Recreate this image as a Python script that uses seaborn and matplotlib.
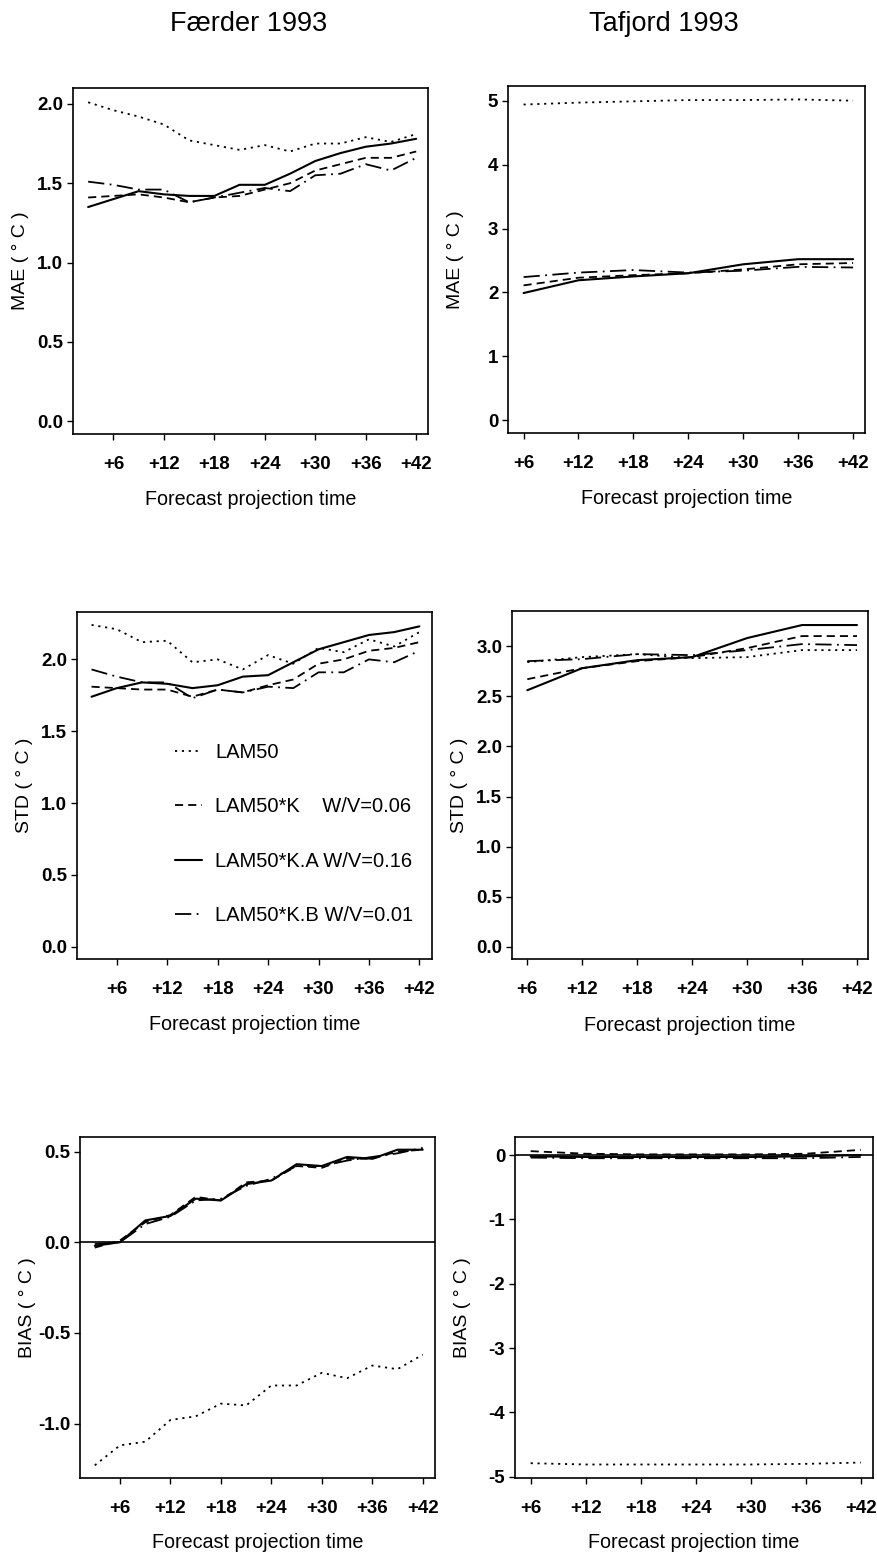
import matplotlib
matplotlib.use("Agg")
import matplotlib.pyplot as plt
import seaborn as sns
import pandas as pd

# forecast hours
hours_f = [3, 6, 9, 12, 15, 18, 21, 24, 27, 30, 33, 36, 39, 42]
hours_t = [6, 12, 18, 24, 30, 36, 42]
xtick_hours = [6, 12, 18, 24, 30, 36, 42]
xtick_labels = ["+6", "+12", "+18", "+24", "+30", "+36", "+42"]

models = ["LAM50", "LAM50*K", "LAM50*K.A", "LAM50*K.B"]
legend_labels = ["LAM50", "LAM50*K    W/V=0.06", "LAM50*K.A W/V=0.16", "LAM50*K.B W/V=0.01"]

# Færder 1993
f_mae_lam50 = [2.01, 1.96, 1.92, 1.87, 1.77, 1.74, 1.71, 1.74, 1.70, 1.75, 1.75, 1.79, 1.76, 1.81]
f_mae_k     = [1.41, 1.42, 1.43, 1.41, 1.38, 1.41, 1.42, 1.46, 1.50, 1.58, 1.62, 1.66, 1.66, 1.70]
f_mae_ka    = [1.35, 1.40, 1.45, 1.43, 1.42, 1.42, 1.49, 1.49, 1.56, 1.64, 1.69, 1.73, 1.75, 1.78]
f_mae_kb    = [1.51, 1.49, 1.46, 1.46, 1.38, 1.41, 1.44, 1.47, 1.45, 1.55, 1.56, 1.62, 1.58, 1.66]

f_std_lam50 = [2.24, 2.21, 2.12, 2.13, 1.98, 2.00, 1.93, 2.03, 1.97, 2.08, 2.05, 2.14, 2.09, 2.19]
f_std_k     = [1.81, 1.80, 1.79, 1.79, 1.74, 1.79, 1.77, 1.82, 1.86, 1.97, 2.00, 2.06, 2.08, 2.12]
f_std_ka    = [1.74, 1.80, 1.84, 1.83, 1.80, 1.82, 1.88, 1.89, 1.98, 2.07, 2.12, 2.17, 2.19, 2.23]
f_std_kb    = [1.93, 1.88, 1.84, 1.84, 1.73, 1.79, 1.77, 1.81, 1.80, 1.91, 1.91, 2.00, 1.98, 2.06]

f_bias_lam50 = [-1.23, -1.12, -1.10, -0.98, -0.96, -0.89, -0.90, -0.79, -0.79, -0.72, -0.75, -0.68, -0.70, -0.62]
f_bias_k     = [-0.03, 0.01, 0.11, 0.15, 0.25, 0.23, 0.33, 0.34, 0.42, 0.41, 0.46, 0.46, 0.50, 0.51]
f_bias_ka    = [-0.02, 0.00, 0.12, 0.145, 0.24, 0.23, 0.32, 0.34, 0.43, 0.42, 0.47, 0.46, 0.51, 0.51]
f_bias_kb    = [-0.01, 0.00, 0.10, 0.14, 0.23, 0.24, 0.31, 0.35, 0.42, 0.42, 0.45, 0.47, 0.49, 0.52]

# Tafjord 1993
t_mae_lam50 = [4.94, 4.97, 4.99, 5.01, 5.01, 5.02, 5.00]
t_mae_k     = [2.11, 2.23, 2.27, 2.30, 2.36, 2.44, 2.46]
t_mae_ka    = [1.99, 2.19, 2.25, 2.30, 2.44, 2.52, 2.52]
t_mae_kb    = [2.24, 2.31, 2.35, 2.31, 2.34, 2.40, 2.39]

t_std_lam50 = [2.84, 2.89, 2.92, 2.88, 2.89, 2.96, 2.96]
t_std_k     = [2.67, 2.78, 2.85, 2.89, 2.98, 3.10, 3.10]
t_std_ka    = [2.56, 2.78, 2.86, 2.89, 3.08, 3.21, 3.21]
t_std_kb    = [2.85, 2.87, 2.92, 2.91, 2.96, 3.02, 3.01]

t_bias_lam50 = [-4.79, -4.81, -4.81, -4.81, -4.81, -4.80, -4.78]
t_bias_k     = [0.06, 0.02, 0.01, 0.01, 0.01, 0.02, 0.08]
t_bias_ka    = [-0.02, -0.03, -0.03, -0.03, -0.03, -0.02, 0.00]
t_bias_kb    = [-0.04, -0.05, -0.05, -0.05, -0.05, -0.05, -0.03]

sns.set_theme(style="ticks")
plt.rcParams["font.family"] = ["Liberation Sans", "DejaVu Sans"]
plt.rcParams["text.color"] = "black"
plt.rcParams["axes.labelcolor"] = "black"
plt.rcParams["xtick.color"] = "black"
plt.rcParams["ytick.color"] = "black"

line_styles = {
    "LAM50": dict(linestyle=(0, (1.2, 2.6)), lw=1.3),
    "LAM50*K": dict(linestyle=(0, (4.5, 2.8)), lw=1.3),
    "LAM50*K.A": dict(linestyle="-", lw=1.5),
    "LAM50*K.B": dict(linestyle=(0, (9, 3, 1, 3)), lw=1.3),
}

W, H = 877, 1560
fig = plt.figure(figsize=(W / 100, H / 100), dpi=100)


def px_axes(left, top, right, bottom):
    return fig.add_axes([left / W, 1 - bottom / H, (right - left) / W, (bottom - top) / H])


def draw(ax, hours, series, ylim, yticks, ylabel, fmt, xlim, zero_line=False, show_legend=False):
    df = pd.DataFrame({"hour": hours * len(series),
                       "value": sum(series, []),
                       "model": sum([[m] * len(hours) for m in models], [])})
    for m, lab in zip(models, legend_labels):
        sub = df[df["model"] == m]
        sns.lineplot(data=sub, x="hour", y="value", ax=ax, color="black",
                     label=lab, legend=False, **line_styles[m])
    if zero_line:
        ax.axhline(0, color="black", lw=1.2)
    ax.set_xlim(*xlim)
    ax.set_ylim(*ylim)
    ax.set_xticks(xtick_hours)
    ax.set_xticklabels(xtick_labels)
    ax.set_yticks(yticks)
    ax.set_yticklabels([fmt.format(v) for v in yticks])
    ax.set_xlabel("Forecast projection time", fontsize=14.2, va="center")
    ax.set_ylabel(ylabel, fontsize=14, va="center")
    ax.xaxis.set_label_coords(0.5, -0.19)
    ax.yaxis.set_label_coords(-0.148, 0.5)
    ax.tick_params(axis="x", direction="out", length=4, width=1, pad=12, labelsize=13.5)
    ax.tick_params(axis="y", direction="out", length=4, width=1, pad=3, labelsize=13.5)
    for lab in ax.get_xticklabels() + ax.get_yticklabels():
        lab.set_fontweight("bold")
    for sp in ax.spines.values():
        sp.set_visible(True)
        sp.set_linewidth(1.2)
        sp.set_color("black")
    if show_legend:
        ax.legend(loc="upper left", bbox_to_anchor=(0.276, 0.622), frameon=False,
                  fontsize=14.5, handlelength=1.35, handletextpad=0.65,
                  labelspacing=1.75, borderpad=0, borderaxespad=0)


ax = px_axes(73, 88, 428, 434)
draw(ax, hours_f, [f_mae_lam50, f_mae_k, f_mae_ka, f_mae_kb], (-0.08, 2.1),
     [0.0, 0.5, 1.0, 1.5, 2.0], "MAE ( ° C )", "{:.1f}", (1.2, 43.4))

ax = px_axes(508, 86, 865, 433)
draw(ax, hours_t, [t_mae_lam50, t_mae_k, t_mae_ka, t_mae_kb], (-0.2, 5.23),
     [0, 1, 2, 3, 4, 5], "MAE ( ° C )", "{:.0f}", (4.3, 43.3))

ax = px_axes(77, 612, 432, 959)
draw(ax, hours_f, [f_std_lam50, f_std_k, f_std_ka, f_std_kb], (-0.086, 2.33),
     [0.0, 0.5, 1.0, 1.5, 2.0], "STD ( ° C )", "{:.1f}", (1.27, 43.5), show_legend=True)

ax = px_axes(512, 611, 868, 959)
draw(ax, hours_t, [t_std_lam50, t_std_k, t_std_ka, t_std_kb], (-0.12, 3.35),
     [0.0, 0.5, 1.0, 1.5, 2.0, 2.5, 3.0], "STD ( ° C )", "{:.1f}", (4.33, 43.2))

ax = px_axes(80, 1137, 435, 1478)
draw(ax, hours_f, [f_bias_lam50, f_bias_k, f_bias_ka, f_bias_kb], (-1.30, 0.58),
     [-1.0, -0.5, 0.0, 0.5], "BIAS ( ° C )", "{:.1f}", (1.24, 43.46), zero_line=True)

ax = px_axes(515, 1137, 873, 1478)
draw(ax, hours_t, [t_bias_lam50, t_bias_k, t_bias_ka, t_bias_kb], (-5.02, 0.28),
     [-5, -4, -3, -2, -1, 0], "BIAS ( ° C )", "{:.0f}", (4.29, 43.34), zero_line=True)

fig.text(249 / W, 1 - 24 / H, "Færder 1993", ha="center", va="center", fontsize=19.5)
fig.text(664 / W, 1 - 24 / H, "Tafjord 1993", ha="center", va="center", fontsize=19.5)

fig.savefig("out.png", dpi=100, facecolor="white")
